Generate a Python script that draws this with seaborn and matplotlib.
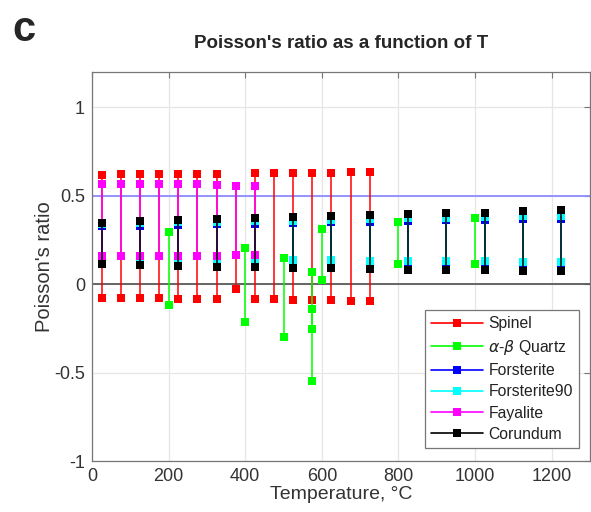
import matplotlib
matplotlib.use("Agg")
import numpy as np
import pandas as pd
import seaborn as sns
import matplotlib.pyplot as plt
from matplotlib.lines import Line2D

# ---------------- data ----------------
materials = ["Spinel", r"$\alpha$-$\beta$ Quartz", "Forsterite", "Forsterite90", "Fayalite", "Corundum"]
colors = ["#ff0000", "#00ff00", "#0000ff", "#00ffff", "#ff00ff", "#000000"]

spinel_T = [25, 75, 125, 175, 225, 275, 325, 375, 425, 475, 525, 575, 625, 675, 725]
spinel_lo = [-0.077, -0.078, -0.079, -0.080, -0.081, -0.082, -0.083, -0.030,
             -0.084, -0.086, -0.088, -0.089, -0.091, -0.093, -0.095]
spinel_hi = [0.620, 0.621, 0.622, 0.622, 0.623, 0.623, 0.624, 0.556,
             0.626, 0.627, 0.628, 0.629, 0.631, 0.633, 0.635]

quartz_T = [200, 400, 500, 573, 573, 600, 800, 1000]
quartz_lo = [-0.120, -0.216, -0.300, -0.545, -0.255, 0.021, 0.115, 0.112]
quartz_hi = [0.295, 0.206, 0.150, 0.070, -0.138, 0.310, 0.352, 0.377]

olivine_T = [25, 125, 225, 325, 425, 525, 625, 725, 825, 925, 1025, 1125, 1225]
forsterite_lo = [0.136, 0.135, 0.134, 0.132, 0.131, 0.129, 0.127, 0.125, 0.123, 0.122, 0.121, 0.120, 0.119]
forsterite_hi = [0.328, 0.331, 0.335, 0.338, 0.342, 0.346, 0.350, 0.354, 0.358, 0.361, 0.364, 0.368, 0.371]
forsterite90_lo = [0.142, 0.141, 0.140, 0.139, 0.138, 0.136, 0.135, 0.133, 0.131, 0.130, 0.129, 0.128, 0.127]
forsterite90_hi = [0.341, 0.345, 0.349, 0.352, 0.356, 0.360, 0.364, 0.368, 0.372, 0.376, 0.380, 0.384, 0.387]

fayalite_T = [25, 75, 125, 175, 225, 275, 325, 375, 425]
fayalite_lo = [0.160, 0.160, 0.161, 0.161, 0.162, 0.162, 0.162, 0.163, 0.163]
fayalite_hi = [0.567, 0.567, 0.566, 0.566, 0.565, 0.564, 0.563, 0.556, 0.553]

corundum_T = olivine_T
corundum_lo = [0.112, 0.110, 0.104, 0.098, 0.096, 0.093, 0.089, 0.087, 0.083, 0.079, 0.078, 0.075, 0.074]
corundum_hi = [0.348, 0.358, 0.363, 0.371, 0.375, 0.380, 0.384, 0.390, 0.396, 0.400, 0.405, 0.412, 0.418]

xticks = [0, 200, 400, 600, 800, 1000, 1200]
yticks = [-1, -0.5, 0, 0.5, 1]
ytick_labels = ["-1", "-0.5", "0", "0.5", "1"]
ref_lines = [0.5, 0.0]

# ---------------- long table: one vertical segment per (material, T) ----------------
series = [
    (materials[0], spinel_T, spinel_lo, spinel_hi),
    (materials[1], quartz_T, quartz_lo, quartz_hi),
    (materials[2], olivine_T, forsterite_lo, forsterite_hi),
    (materials[3], olivine_T, forsterite90_lo, forsterite90_hi),
    (materials[4], fayalite_T, fayalite_lo, fayalite_hi),
    (materials[5], corundum_T, corundum_lo, corundum_hi),
]
rows = []
for name, T, lo, hi in series:
    for i, (t, a, b) in enumerate(zip(T, lo, hi)):
        rows.append({"material": name, "T": t, "nu": a, "pair": f"{name}_{i}"})
        rows.append({"material": name, "T": t, "nu": b, "pair": f"{name}_{i}"})
df = pd.DataFrame(rows)

# ---------------- style ----------------
sns.set_style("whitegrid")
plt.rcParams["font.family"] = ["Liberation Sans", "DejaVu Sans"]
plt.rcParams["mathtext.fontset"] = "dejavusans"

fig = plt.figure(figsize=(5.91, 5.12), dpi=100)
ax = fig.add_axes([92 / 591, 1 - 461 / 512, 498 / 591, 389 / 512])

sns.lineplot(data=df, x="T", y="nu", hue="material", hue_order=materials,
             palette=colors, units="pair", estimator=None, marker="s",
             markersize=6, markeredgewidth=0, linewidth=1.1, legend=False,
             ax=ax, zorder=3)

ax.axhline(ref_lines[0], color="#8c8cff", lw=1.3, zorder=2.5)
ax.axhline(ref_lines[1], color="#5a5a5a", lw=1.3, zorder=2.5)

ax.set_xlim(0, 1300)
ax.set_ylim(-1, 1.2)
ax.set_xticks(xticks)
ax.set_yticks(yticks)
ax.set_yticklabels(ytick_labels)
ax.grid(True, color="#e6e6e6", lw=0.9)
for s in ax.spines.values():
    s.set_color("#777777")
    s.set_linewidth(0.9)
ax.tick_params(direction="in", length=4, width=0.8, color="#777777",
               top=True, right=True, labelsize=13, labelcolor="#333333", pad=5)
ax.set_xlabel("Temperature, °C", fontsize=14, color="#333333", labelpad=1)
ax.set_ylabel("Poisson's ratio", fontsize=14.5, color="#333333", labelpad=0)

handles = [Line2D([0], [0], color=c, lw=1.2, marker="s", markersize=6.2,
                  markeredgewidth=0) for c in colors]
leg = ax.legend(handles, materials, loc="lower right",
                bbox_to_anchor=(0.978, 0.033), borderaxespad=0,
                fontsize=11.3, frameon=True, fancybox=False, framealpha=1,
                edgecolor="#777777", handlelength=3.3, handletextpad=0.35,
                labelspacing=0.4, borderpad=0.4)
leg.get_frame().set_linewidth(0.9)
for t in leg.get_texts():
    t.set_color("#222222")

fig.text(341 / 591, 1 - 43 / 512, "Poisson's ratio as a function of T",
         ha="center", va="center", fontsize=13.5, fontweight="bold")
fig.text(12 / 591, 1 - 30 / 512, "c", ha="left", va="center",
         fontsize=30, fontweight="bold")

fig.savefig("out.png", dpi=100)
